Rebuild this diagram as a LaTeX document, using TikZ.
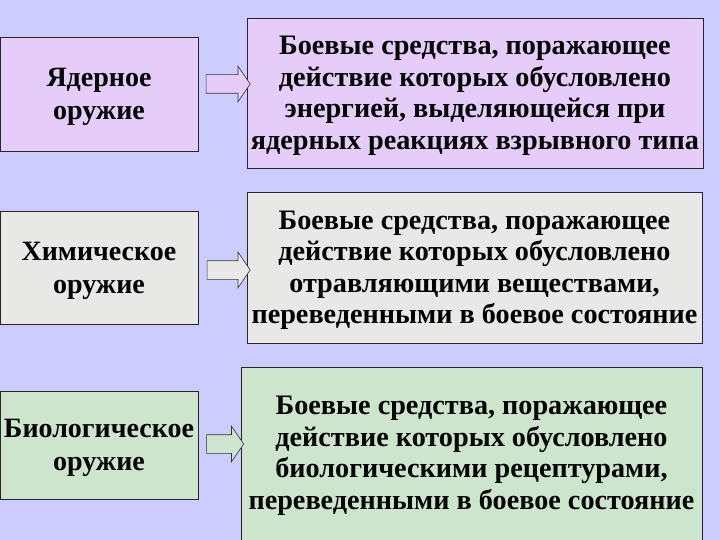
\documentclass[tikz,border=0pt]{standalone}
\usepackage{fontspec}
\setmainfont{Liberation Serif}[BoldFont={Liberation Serif Bold}]
\usepackage{xcolor}
\usepackage{tikz}
\usetikzlibrary{shapes.arrows}

\definecolor{slidebg}{HTML}{CCCCFF}
\definecolor{nuclearfill}{HTML}{E6CCF8}
\definecolor{chemfill}{HTML}{E8E8E6}
\definecolor{biofill}{HTML}{CCE5CC}

\begin{document}
\begin{tikzpicture}[x=1pt,y=-1pt,
  kind/.style={draw=black!85,line width=0.9pt,inner sep=0pt,align=center,text depth=0pt,
    minimum width=198pt,font=\bfseries\fontsize{28}{33}\selectfont},
  effect/.style={draw=black!85,line width=0.9pt,inner sep=0pt,align=center,text depth=0pt,
    font=\bfseries\fontsize{28.2}{31.5}\selectfont},
  blockarrow/.style={single arrow,draw=black!80,line width=0.6pt,inner xsep=0pt,
    inner ysep=9pt,single arrow head extend=8.5pt,single arrow tip angle=111,
    minimum height=44pt}]
  \fill[slidebg] (0,0) rectangle (720,540);
  \useasboundingbox (0,0) rectangle (720,540);
  \node[kind,fill=nuclearfill,minimum height=114pt] (nuclear) at (99,94) {Ядерное\\оружие};
  \node[kind,fill=chemfill,minimum height=113pt] (chemical) at (99,268) {Химическое\\оружие};
  \node[kind,fill=biofill,minimum height=108pt] (biological) at (99,445) {Биологическое\\оружие};
  \node[effect,fill=nuclearfill,minimum width=456pt,minimum height=150pt] (nucleareff) at (475,93)
    {Боевые средства, поражающее\\действие которых обусловлено\\энергией, выделяющейся при\\ядерных реакциях взрывного типа};
  \node[effect,fill=chemfill,minimum width=455pt,minimum height=151pt] (chemeff) at (474.5,267.5)
    {Боевые средства, поражающее\\действие которых обусловлено\\отравляющими веществами,\\переведенными в боевое состояние};
  \node[effect,fill=biofill,minimum width=461pt,minimum height=180pt] (bioeff) at (471.5,457) {};
  \node[effect,draw=none] (biotext) at (471.5,453)
    {Боевые средства, поражающее\\действие которых обусловлено\\биологическими рецептурами,\\переведенными в боевое состояние};
  \node[blockarrow,fill=nuclearfill] (arr1) at (225,84) {};
  \node[blockarrow,fill=chemfill,minimum height=43pt] (arr2) at (225.5,270) {};
  \node[blockarrow,fill=biofill,minimum height=37pt] (arr3) at (222,444) {};
\end{tikzpicture}
\end{document}
